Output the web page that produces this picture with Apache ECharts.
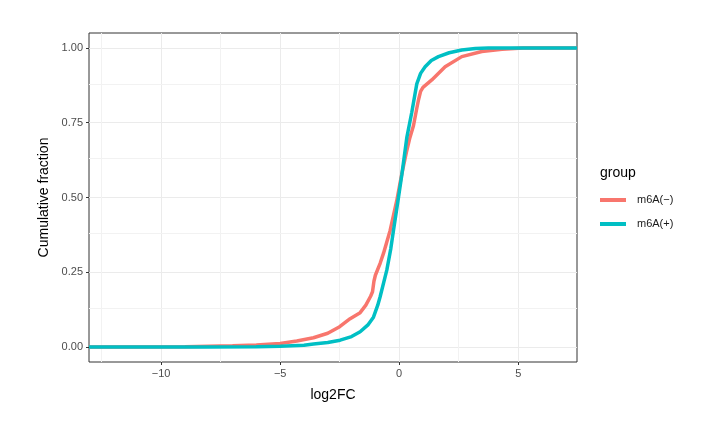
<!DOCTYPE html>
<html>
<head>
<meta charset="utf-8">
<script src="https://cdn.jsdelivr.net/npm/echarts@6/dist/echarts.min.js"></script>
<style>
html,body{margin:0;padding:0;background:#fff;}
#c{width:701px;height:448px;}
</style>
</head>
<body>
<div id="c"></div>
<script>
// x-axis range (ggplot expansion)
const xMin = -13.03, xMax = 7.47;
const yMin = -0.05, yMax = 1.05;
const xTicks = [-10, -5, 0, 5];
const yTicks = [0, 0.25, 0.5, 0.75, 1];
const xMinor = [-12.5, -7.5, -2.5, 2.5];
const yMinor = [0.125, 0.375, 0.625, 0.875];
const seriesNames = ['m6A(\u2212)', 'm6A(+)'];

// m6A(-) ECDF
const negX = [-13.03, -12.1, -9, -7, -6, -5, -4.3, -3.6, -3, -2.5, -2.06, -1.64, -1.4, -1.2, -1.12, -1.06, -1.0, -0.8, -0.66, -0.38, -0.1, 0.1, 0.3, 0.45, 0.6, 0.72, 0.81, 0.9, 1.0, 1.37, 1.93, 2.63, 3.47, 4.32, 5.2, 6.54, 7.47];
const negY = [0, 0, 0.001, 0.004, 0.007, 0.012, 0.02, 0.031, 0.046, 0.068, 0.095, 0.115, 0.14, 0.17, 0.185, 0.22, 0.24, 0.28, 0.313, 0.39, 0.49, 0.575, 0.65, 0.70, 0.74, 0.79, 0.826, 0.855, 0.868, 0.893, 0.937, 0.971, 0.988, 0.996, 1, 1, 1];

// m6A(+) ECDF
const posX = [-13.03, -12.1, -8, -6, -5, -4, -3.6, -3, -2.48, -2, -1.64, -1.3, -1.08, -0.9, -0.8, -0.52, -0.35, -0.24, -0.03, 0.11, 0.32, 0.53, 0.74, 0.9, 1.09, 1.35, 1.65, 2.1, 2.63, 3.2, 3.74, 6.54, 7.47];
const posY = [0, 0, 0.0005, 0.001, 0.003, 0.006, 0.01, 0.015, 0.023, 0.035, 0.051, 0.075, 0.10, 0.14, 0.168, 0.257, 0.33, 0.39, 0.50, 0.575, 0.70, 0.785, 0.88, 0.915, 0.937, 0.958, 0.971, 0.984, 0.993, 0.998, 1, 1, 1];

const zip = (xs, ys) => xs.map((x, i) => [x, ys[i]]);
const fmtX = v => (v < 0 ? '\u2212' + Math.abs(v) : String(v));

const chart = echarts.init(document.getElementById('c'), null, {renderer: 'canvas'});
const font = 'Liberation Sans, Arial, sans-serif';
chart.setOption({
  animation: false,
  backgroundColor: '#fff',
  title: {
    text: 'group', left: 595, top: 161,
    textStyle: {fontFamily: font, fontSize: 14, fontWeight: 'normal', color: '#000'}
  },
  legend: {
    orient: 'vertical', left: 595, top: 188,
    data: seriesNames,
    icon: 'rect', itemWidth: 26, itemHeight: 4, itemGap: 10,
    textStyle: {fontFamily: font, fontSize: 11, color: '#1a1a1a', padding: [0, 0, 0, 6], lineHeight: 14}
  },
  grid: {
    left: 89, top: 33, right: 124, bottom: 86,
    show: true, borderColor: '#333333', borderWidth: 1, backgroundColor: '#fff'
  },
  xAxis: {
    type: 'value', min: xMin, max: xMax, position: 'bottom',
    name: 'log2FC', nameLocation: 'middle', nameGap: 26,
    nameTextStyle: {fontFamily: font, fontSize: 14, color: '#000'},
    axisLine: {show: false, onZero: false},
    axisTick: {show: true, length: 3, customValues: xTicks, lineStyle: {color: '#333333'}},
    axisLabel: {customValues: xTicks, formatter: fmtX, fontFamily: font, fontSize: 11, color: '#4D4D4D', margin: 6},
    splitLine: {show: true, lineStyle: {color: '#EBEBEB', width: 1}}
  },
  yAxis: {
    type: 'value', min: yMin, max: yMax, position: 'left',
    name: 'Cumulative fraction', nameLocation: 'middle', nameGap: 36,
    nameTextStyle: {fontFamily: font, fontSize: 14, color: '#000'},
    axisLine: {show: false, onZero: false},
    axisTick: {show: true, length: 3, customValues: yTicks, lineStyle: {color: '#333333'}},
    axisLabel: {customValues: yTicks, formatter: v => v.toFixed(2), fontFamily: font, fontSize: 11, color: '#4D4D4D', margin: 6},
    splitLine: {show: true, lineStyle: {color: '#EBEBEB', width: 1}}
  },
  series: [
    {
      type: 'line', name: '_minor', data: [], silent: true, z: 1,
      markLine: {
        silent: true, symbol: 'none', label: {show: false}, z: 1,
        lineStyle: {color: '#F2F2F2', width: 1, type: 'solid'},
        data: xMinor.map(v => ({xAxis: v})).concat(yMinor.map(v => ({yAxis: v})))
      }
    },
    {
      type: 'line', name: seriesNames[0], data: zip(negX, negY), z: 3,
      showSymbol: false, smooth: false, clip: true,
      lineStyle: {color: '#F8766D', width: 3.5}, itemStyle: {color: '#F8766D'}
    },
    {
      type: 'line', name: seriesNames[1], data: zip(posX, posY), z: 4,
      showSymbol: false, smooth: false, clip: true,
      lineStyle: {color: '#00BFC4', width: 3.5}, itemStyle: {color: '#00BFC4'}
    }
  ]
});
</script>
</body>
</html>
